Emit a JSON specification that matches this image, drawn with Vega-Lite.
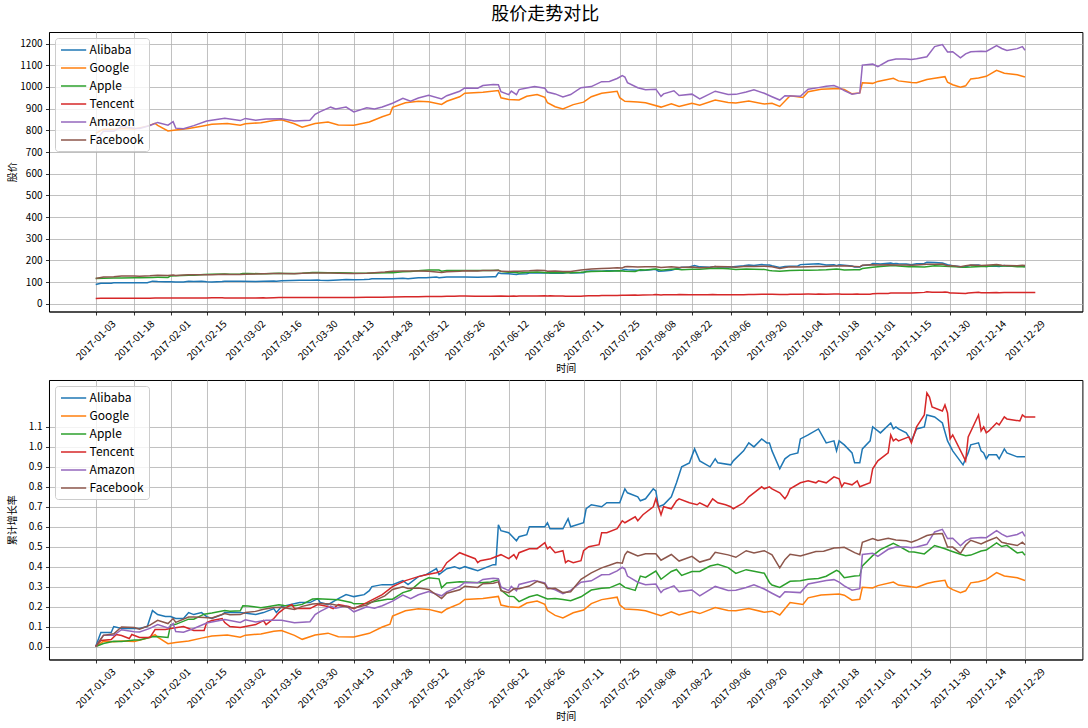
{
  "$schema": "https://vega.github.io/schema/vega-lite/v6.json",
  "padding": {"left": 7, "top": 5, "right": 5, "bottom": 5},
  "title": {"text": "股价走势对比", "fontSize": 18, "fontWeight": "normal", "font": "Noto Sans CJK SC", "color": "#000000", "offset": 8, "anchor": "middle"},
  "spacing": 4,
  "resolve": {"legend": {"color": "independent"}},
  "config": {
    "font": "Noto Sans CJK SC",
    "view": {"stroke": "#000000", "strokeWidth": 1},
    "axis": {"labelFont": "Noto Sans CJK SC", "labelFontSize": 10, "labelColor": "#000000", "titleFont": "Noto Sans CJK SC", "titleFontSize": 10, "titleFontWeight": "normal", "titleColor": "#000000", "gridColor": "#b0b0b0", "gridWidth": 0.8, "gridOpacity": 1, "tickColor": "#000000", "tickSize": 3.5, "tickWidth": 0.8, "domainColor": "#000000", "domainWidth": 0.8},
    "legend": {"title": null, "orient": "top-left", "offset": 6, "symbolType": "M-2.1,0H2.1", "symbolSize": 144, "symbolOffset": 6.6, "symbolStrokeWidth": 1.5, "labelFontSize": 12, "labelFont": "Noto Sans CJK SC", "labelColor": "#000000", "fillColor": "rgba(255,255,255,0.8)", "strokeColor": "#cccccc", "padding": 5, "cornerRadius": 3, "rowPadding": 5, "labelOffset": 9}
  },
  "data": {"values": [
    {"date":"2017-01-03","name":"Alibaba","price":88.6,"rate":0},
    {"date":"2017-01-05","name":"Alibaba","price":94.8,"rate":0.07},
    {"date":"2017-01-09","name":"Alibaba","price":94.8,"rate":0.07},
    {"date":"2017-01-10","name":"Alibaba","price":97.5,"rate":0.10},
    {"date":"2017-01-13","name":"Alibaba","price":96.6,"rate":0.09},
    {"date":"2017-01-20","name":"Alibaba","price":96.6,"rate":0.09},
    {"date":"2017-01-23","name":"Alibaba","price":97.5,"rate":0.10},
    {"date":"2017-01-25","name":"Alibaba","price":104.5,"rate":0.18},
    {"date":"2017-01-27","name":"Alibaba","price":102.8,"rate":0.16},
    {"date":"2017-01-30","name":"Alibaba","price":101.9,"rate":0.15},
    {"date":"2017-02-01","name":"Alibaba","price":101.9,"rate":0.15},
    {"date":"2017-02-03","name":"Alibaba","price":101.0,"rate":0.14},
    {"date":"2017-02-06","name":"Alibaba","price":101.0,"rate":0.14},
    {"date":"2017-02-08","name":"Alibaba","price":103.7,"rate":0.17},
    {"date":"2017-02-10","name":"Alibaba","price":102.8,"rate":0.16},
    {"date":"2017-02-13","name":"Alibaba","price":103.7,"rate":0.17},
    {"date":"2017-02-15","name":"Alibaba","price":101.9,"rate":0.15},
    {"date":"2017-02-17","name":"Alibaba","price":101.0,"rate":0.14},
    {"date":"2017-02-21","name":"Alibaba","price":102.8,"rate":0.16},
    {"date":"2017-02-22","name":"Alibaba","price":103.7,"rate":0.17},
    {"date":"2017-02-28","name":"Alibaba","price":103.7,"rate":0.17},
    {"date":"2017-03-06","name":"Alibaba","price":102.8,"rate":0.16},
    {"date":"2017-03-09","name":"Alibaba","price":103.7,"rate":0.17},
    {"date":"2017-03-13","name":"Alibaba","price":105.4,"rate":0.19},
    {"date":"2017-03-14","name":"Alibaba","price":103.7,"rate":0.17},
    {"date":"2017-03-16","name":"Alibaba","price":106.3,"rate":0.20},
    {"date":"2017-03-23","name":"Alibaba","price":108.1,"rate":0.22},
    {"date":"2017-03-27","name":"Alibaba","price":108.1,"rate":0.22},
    {"date":"2017-03-30","name":"Alibaba","price":109.9,"rate":0.24},
    {"date":"2017-03-31","name":"Alibaba","price":108.1,"rate":0.22},
    {"date":"2017-04-03","name":"Alibaba","price":107.2,"rate":0.21},
    {"date":"2017-04-07","name":"Alibaba","price":109.9,"rate":0.24},
    {"date":"2017-04-10","name":"Alibaba","price":111.6,"rate":0.26},
    {"date":"2017-04-13","name":"Alibaba","price":110.8,"rate":0.25},
    {"date":"2017-04-17","name":"Alibaba","price":111.6,"rate":0.26},
    {"date":"2017-04-19","name":"Alibaba","price":113.4,"rate":0.28},
    {"date":"2017-04-20","name":"Alibaba","price":115.2,"rate":0.30},
    {"date":"2017-04-24","name":"Alibaba","price":116.1,"rate":0.31},
    {"date":"2017-04-28","name":"Alibaba","price":116.1,"rate":0.31},
    {"date":"2017-05-02","name":"Alibaba","price":117.8,"rate":0.33},
    {"date":"2017-05-04","name":"Alibaba","price":116.1,"rate":0.31},
    {"date":"2017-05-08","name":"Alibaba","price":119.6,"rate":0.35},
    {"date":"2017-05-11","name":"Alibaba","price":120.5,"rate":0.36},
    {"date":"2017-05-15","name":"Alibaba","price":123.2,"rate":0.39},
    {"date":"2017-05-16","name":"Alibaba","price":120.5,"rate":0.36},
    {"date":"2017-05-19","name":"Alibaba","price":123.2,"rate":0.39},
    {"date":"2017-05-22","name":"Alibaba","price":124.0,"rate":0.40},
    {"date":"2017-05-24","name":"Alibaba","price":123.2,"rate":0.39},
    {"date":"2017-05-26","name":"Alibaba","price":124.0,"rate":0.40},
    {"date":"2017-05-31","name":"Alibaba","price":122.3,"rate":0.38},
    {"date":"2017-06-06","name":"Alibaba","price":124.9,"rate":0.41},
    {"date":"2017-06-07","name":"Alibaba","price":124.9,"rate":0.41},
    {"date":"2017-06-08","name":"Alibaba","price":142.6,"rate":0.61},
    {"date":"2017-06-09","name":"Alibaba","price":140.0,"rate":0.58},
    {"date":"2017-06-12","name":"Alibaba","price":139.1,"rate":0.57},
    {"date":"2017-06-15","name":"Alibaba","price":135.6,"rate":0.53},
    {"date":"2017-06-16","name":"Alibaba","price":137.3,"rate":0.55},
    {"date":"2017-06-19","name":"Alibaba","price":138.2,"rate":0.56},
    {"date":"2017-06-20","name":"Alibaba","price":141.8,"rate":0.60},
    {"date":"2017-06-22","name":"Alibaba","price":141.8,"rate":0.60},
    {"date":"2017-06-26","name":"Alibaba","price":141.8,"rate":0.60},
    {"date":"2017-06-27","name":"Alibaba","price":143.5,"rate":0.62},
    {"date":"2017-06-28","name":"Alibaba","price":140.9,"rate":0.59},
    {"date":"2017-07-03","name":"Alibaba","price":140.9,"rate":0.59},
    {"date":"2017-07-05","name":"Alibaba","price":145.3,"rate":0.64},
    {"date":"2017-07-06","name":"Alibaba","price":141.8,"rate":0.60},
    {"date":"2017-07-11","name":"Alibaba","price":143.5,"rate":0.62},
    {"date":"2017-07-12","name":"Alibaba","price":149.7,"rate":0.69},
    {"date":"2017-07-14","name":"Alibaba","price":151.5,"rate":0.71},
    {"date":"2017-07-18","name":"Alibaba","price":150.6,"rate":0.70},
    {"date":"2017-07-20","name":"Alibaba","price":152.4,"rate":0.72},
    {"date":"2017-07-25","name":"Alibaba","price":152.4,"rate":0.72},
    {"date":"2017-07-27","name":"Alibaba","price":158.6,"rate":0.79},
    {"date":"2017-07-28","name":"Alibaba","price":156.8,"rate":0.77},
    {"date":"2017-08-01","name":"Alibaba","price":155.1,"rate":0.75},
    {"date":"2017-08-02","name":"Alibaba","price":153.3,"rate":0.73},
    {"date":"2017-08-04","name":"Alibaba","price":154.2,"rate":0.74},
    {"date":"2017-08-07","name":"Alibaba","price":158.6,"rate":0.79},
    {"date":"2017-08-08","name":"Alibaba","price":157.7,"rate":0.78},
    {"date":"2017-08-09","name":"Alibaba","price":150.6,"rate":0.70},
    {"date":"2017-08-11","name":"Alibaba","price":151.5,"rate":0.71},
    {"date":"2017-08-14","name":"Alibaba","price":155.1,"rate":0.75},
    {"date":"2017-08-16","name":"Alibaba","price":161.3,"rate":0.82},
    {"date":"2017-08-18","name":"Alibaba","price":168.3,"rate":0.90},
    {"date":"2017-08-21","name":"Alibaba","price":170.1,"rate":0.92},
    {"date":"2017-08-23","name":"Alibaba","price":176.3,"rate":0.99},
    {"date":"2017-08-25","name":"Alibaba","price":170.4,"rate":0.93},
    {"date":"2017-08-29","name":"Alibaba","price":168.3,"rate":0.90},
    {"date":"2017-08-31","name":"Alibaba","price":171.9,"rate":0.94},
    {"date":"2017-09-01","name":"Alibaba","price":170.1,"rate":0.92},
    {"date":"2017-09-06","name":"Alibaba","price":169.2,"rate":0.91},
    {"date":"2017-09-07","name":"Alibaba","price":171.0,"rate":0.93},
    {"date":"2017-09-11","name":"Alibaba","price":175.4,"rate":0.98},
    {"date":"2017-09-13","name":"Alibaba","price":179.0,"rate":1.02},
    {"date":"2017-09-15","name":"Alibaba","price":177.2,"rate":1.00},
    {"date":"2017-09-18","name":"Alibaba","price":180.7,"rate":1.04},
    {"date":"2017-09-20","name":"Alibaba","price":179.0,"rate":1.02},
    {"date":"2017-09-21","name":"Alibaba","price":179.0,"rate":1.02},
    {"date":"2017-09-22","name":"Alibaba","price":175.4,"rate":0.98},
    {"date":"2017-09-25","name":"Alibaba","price":167.5,"rate":0.89},
    {"date":"2017-09-27","name":"Alibaba","price":171.9,"rate":0.94},
    {"date":"2017-09-29","name":"Alibaba","price":173.7,"rate":0.96},
    {"date":"2017-10-02","name":"Alibaba","price":174.5,"rate":0.97},
    {"date":"2017-10-03","name":"Alibaba","price":180.7,"rate":1.04},
    {"date":"2017-10-06","name":"Alibaba","price":182.5,"rate":1.06},
    {"date":"2017-10-10","name":"Alibaba","price":185.2,"rate":1.09},
    {"date":"2017-10-13","name":"Alibaba","price":179.0,"rate":1.02},
    {"date":"2017-10-16","name":"Alibaba","price":179.9,"rate":1.03},
    {"date":"2017-10-17","name":"Alibaba","price":175.4,"rate":0.98},
    {"date":"2017-10-18","name":"Alibaba","price":179.9,"rate":1.03},
    {"date":"2017-10-20","name":"Alibaba","price":178.1,"rate":1.01},
    {"date":"2017-10-23","name":"Alibaba","price":174.5,"rate":0.97},
    {"date":"2017-10-24","name":"Alibaba","price":170.1,"rate":0.92},
    {"date":"2017-10-26","name":"Alibaba","price":170.1,"rate":0.92},
    {"date":"2017-10-27","name":"Alibaba","price":176.3,"rate":0.99},
    {"date":"2017-10-30","name":"Alibaba","price":179.9,"rate":1.03},
    {"date":"2017-10-31","name":"Alibaba","price":186.1,"rate":1.10},
    {"date":"2017-11-02","name":"Alibaba","price":184.3,"rate":1.08},
    {"date":"2017-11-03","name":"Alibaba","price":183.4,"rate":1.07},
    {"date":"2017-11-07","name":"Alibaba","price":187.8,"rate":1.12},
    {"date":"2017-11-08","name":"Alibaba","price":185.2,"rate":1.09},
    {"date":"2017-11-09","name":"Alibaba","price":186.1,"rate":1.10},
    {"date":"2017-11-10","name":"Alibaba","price":185.2,"rate":1.09},
    {"date":"2017-11-13","name":"Alibaba","price":183.4,"rate":1.07},
    {"date":"2017-11-15","name":"Alibaba","price":179.9,"rate":1.03},
    {"date":"2017-11-17","name":"Alibaba","price":185.2,"rate":1.09},
    {"date":"2017-11-20","name":"Alibaba","price":186.1,"rate":1.10},
    {"date":"2017-11-21","name":"Alibaba","price":191.4,"rate":1.16},
    {"date":"2017-11-24","name":"Alibaba","price":190.5,"rate":1.15},
    {"date":"2017-11-27","name":"Alibaba","price":187.8,"rate":1.12},
    {"date":"2017-11-29","name":"Alibaba","price":179.9,"rate":1.03},
    {"date":"2017-12-01","name":"Alibaba","price":175.4,"rate":0.98},
    {"date":"2017-12-05","name":"Alibaba","price":169.2,"rate":0.91},
    {"date":"2017-12-07","name":"Alibaba","price":174.5,"rate":0.97},
    {"date":"2017-12-08","name":"Alibaba","price":178.1,"rate":1.01},
    {"date":"2017-12-11","name":"Alibaba","price":179.0,"rate":1.02},
    {"date":"2017-12-12","name":"Alibaba","price":175.4,"rate":0.98},
    {"date":"2017-12-13","name":"Alibaba","price":174.5,"rate":0.97},
    {"date":"2017-12-14","name":"Alibaba","price":171.9,"rate":0.94},
    {"date":"2017-12-15","name":"Alibaba","price":173.7,"rate":0.96},
    {"date":"2017-12-18","name":"Alibaba","price":173.7,"rate":0.96},
    {"date":"2017-12-19","name":"Alibaba","price":171.9,"rate":0.94},
    {"date":"2017-12-21","name":"Alibaba","price":176.3,"rate":0.99},
    {"date":"2017-12-22","name":"Alibaba","price":174.5,"rate":0.97},
    {"date":"2017-12-26","name":"Alibaba","price":172.7,"rate":0.95},
    {"date":"2017-12-29","name":"Alibaba","price":172.7,"rate":0.95},

    {"date":"2017-01-03","name":"Google","price":786.1,"rate":0},
    {"date":"2017-01-06","name":"Google","price":806.2,"rate":0.026},
    {"date":"2017-01-10","name":"Google","price":804.8,"rate":0.024},
    {"date":"2017-01-13","name":"Google","price":807.9,"rate":0.028},
    {"date":"2017-01-18","name":"Google","price":806.1,"rate":0.025},
    {"date":"2017-01-23","name":"Google","price":819.3,"rate":0.042},
    {"date":"2017-01-26","name":"Google","price":832.2,"rate":0.059},
    {"date":"2017-01-27","name":"Google","price":823.3,"rate":0.047},
    {"date":"2017-01-31","name":"Google","price":796.8,"rate":0.014},
    {"date":"2017-02-03","name":"Google","price":801.5,"rate":0.020},
    {"date":"2017-02-08","name":"Google","price":808.4,"rate":0.028},
    {"date":"2017-02-13","name":"Google","price":819.2,"rate":0.042},
    {"date":"2017-02-17","name":"Google","price":828.1,"rate":0.053},
    {"date":"2017-02-23","name":"Google","price":831.3,"rate":0.058},
    {"date":"2017-02-28","name":"Google","price":823.2,"rate":0.047},
    {"date":"2017-03-02","name":"Google","price":830.6,"rate":0.057},
    {"date":"2017-03-08","name":"Google","price":835.4,"rate":0.063},
    {"date":"2017-03-13","name":"Google","price":845.5,"rate":0.076},
    {"date":"2017-03-16","name":"Google","price":848.8,"rate":0.080},
    {"date":"2017-03-21","name":"Google","price":830.5,"rate":0.056},
    {"date":"2017-03-24","name":"Google","price":814.4,"rate":0.036},
    {"date":"2017-03-29","name":"Google","price":831.4,"rate":0.058},
    {"date":"2017-04-03","name":"Google","price":838.6,"rate":0.067},
    {"date":"2017-04-07","name":"Google","price":824.7,"rate":0.049},
    {"date":"2017-04-13","name":"Google","price":823.6,"rate":0.048},
    {"date":"2017-04-19","name":"Google","price":838.2,"rate":0.066},
    {"date":"2017-04-24","name":"Google","price":862.8,"rate":0.098},
    {"date":"2017-04-27","name":"Google","price":874.3,"rate":0.112},
    {"date":"2017-04-28","name":"Google","price":905.9,"rate":0.152},
    {"date":"2017-05-03","name":"Google","price":927.1,"rate":0.179},
    {"date":"2017-05-08","name":"Google","price":934.3,"rate":0.189},
    {"date":"2017-05-12","name":"Google","price":932.2,"rate":0.186},
    {"date":"2017-05-17","name":"Google","price":919.6,"rate":0.170},
    {"date":"2017-05-19","name":"Google","price":934.0,"rate":0.188},
    {"date":"2017-05-24","name":"Google","price":954.9,"rate":0.215},
    {"date":"2017-05-26","name":"Google","price":971.5,"rate":0.236},
    {"date":"2017-06-02","name":"Google","price":975.6,"rate":0.241},
    {"date":"2017-06-08","name":"Google","price":983.4,"rate":0.251},
    {"date":"2017-06-09","name":"Google","price":949.8,"rate":0.208},
    {"date":"2017-06-12","name":"Google","price":942.3,"rate":0.199},
    {"date":"2017-06-16","name":"Google","price":939.8,"rate":0.196},
    {"date":"2017-06-19","name":"Google","price":957.4,"rate":0.218},
    {"date":"2017-06-23","name":"Google","price":965.6,"rate":0.228},
    {"date":"2017-06-26","name":"Google","price":952.3,"rate":0.211},
    {"date":"2017-06-27","name":"Google","price":927.3,"rate":0.180},
    {"date":"2017-06-30","name":"Google","price":908.7,"rate":0.156},
    {"date":"2017-07-03","name":"Google","price":898.7,"rate":0.143},
    {"date":"2017-07-07","name":"Google","price":918.6,"rate":0.169},
    {"date":"2017-07-11","name":"Google","price":930.1,"rate":0.183},
    {"date":"2017-07-14","name":"Google","price":955.0,"rate":0.215},
    {"date":"2017-07-18","name":"Google","price":970.9,"rate":0.235},
    {"date":"2017-07-24","name":"Google","price":980.3,"rate":0.247},
    {"date":"2017-07-25","name":"Google","price":950.7,"rate":0.209},
    {"date":"2017-07-27","name":"Google","price":934.1,"rate":0.188},
    {"date":"2017-08-01","name":"Google","price":930.5,"rate":0.184},
    {"date":"2017-08-04","name":"Google","price":927.0,"rate":0.179},
    {"date":"2017-08-10","name":"Google","price":907.2,"rate":0.154},
    {"date":"2017-08-14","name":"Google","price":922.7,"rate":0.174},
    {"date":"2017-08-17","name":"Google","price":910.0,"rate":0.158},
    {"date":"2017-08-22","name":"Google","price":924.7,"rate":0.176},
    {"date":"2017-08-25","name":"Google","price":915.9,"rate":0.165},
    {"date":"2017-08-31","name":"Google","price":939.3,"rate":0.195},
    {"date":"2017-09-05","name":"Google","price":928.5,"rate":0.181},
    {"date":"2017-09-08","name":"Google","price":926.5,"rate":0.179},
    {"date":"2017-09-13","name":"Google","price":935.1,"rate":0.190},
    {"date":"2017-09-19","name":"Google","price":921.3,"rate":0.172},
    {"date":"2017-09-22","name":"Google","price":924.9,"rate":0.177},
    {"date":"2017-09-25","name":"Google","price":910.0,"rate":0.158},
    {"date":"2017-09-29","name":"Google","price":959.1,"rate":0.220},
    {"date":"2017-10-04","name":"Google","price":951.7,"rate":0.211},
    {"date":"2017-10-06","name":"Google","price":978.0,"rate":0.244},
    {"date":"2017-10-11","name":"Google","price":989.3,"rate":0.258},
    {"date":"2017-10-18","name":"Google","price":992.8,"rate":0.263},
    {"date":"2017-10-20","name":"Google","price":988.2,"rate":0.257},
    {"date":"2017-10-23","name":"Google","price":968.5,"rate":0.232},
    {"date":"2017-10-26","name":"Google","price":972.6,"rate":0.237},
    {"date":"2017-10-27","name":"Google","price":1019.3,"rate":0.297},
    {"date":"2017-10-31","name":"Google","price":1016.6,"rate":0.293},
    {"date":"2017-11-02","name":"Google","price":1025.6,"rate":0.305},
    {"date":"2017-11-08","name":"Google","price":1039.9,"rate":0.323},
    {"date":"2017-11-10","name":"Google","price":1028.1,"rate":0.308},
    {"date":"2017-11-15","name":"Google","price":1020.9,"rate":0.299},
    {"date":"2017-11-17","name":"Google","price":1019.1,"rate":0.296},
    {"date":"2017-11-21","name":"Google","price":1034.5,"rate":0.316},
    {"date":"2017-11-24","name":"Google","price":1040.6,"rate":0.324},
    {"date":"2017-11-28","name":"Google","price":1047.4,"rate":0.332},
    {"date":"2017-11-29","name":"Google","price":1021.7,"rate":0.300},
    {"date":"2017-12-01","name":"Google","price":1010.2,"rate":0.285},
    {"date":"2017-12-04","name":"Google","price":998.7,"rate":0.270},
    {"date":"2017-12-06","name":"Google","price":1005.2,"rate":0.279},
    {"date":"2017-12-08","name":"Google","price":1037.1,"rate":0.319},
    {"date":"2017-12-11","name":"Google","price":1041.1,"rate":0.324},
    {"date":"2017-12-14","name":"Google","price":1049.2,"rate":0.335},
    {"date":"2017-12-18","name":"Google","price":1077.1,"rate":0.370},
    {"date":"2017-12-21","name":"Google","price":1063.6,"rate":0.353},
    {"date":"2017-12-26","name":"Google","price":1056.7,"rate":0.344},
    {"date":"2017-12-29","name":"Google","price":1046.4,"rate":0.331},

    {"date":"2017-01-03","name":"Apple","price":116.15,"rate":0},
    {"date":"2017-01-06","name":"Apple","price":117.91,"rate":0.015},
    {"date":"2017-01-10","name":"Apple","price":119.11,"rate":0.026},
    {"date":"2017-01-13","name":"Apple","price":119.04,"rate":0.025},
    {"date":"2017-01-18","name":"Apple","price":119.99,"rate":0.033},
    {"date":"2017-01-20","name":"Apple","price":120.0,"rate":0.033},
    {"date":"2017-01-25","name":"Apple","price":121.88,"rate":0.049},
    {"date":"2017-01-27","name":"Apple","price":121.95,"rate":0.050},
    {"date":"2017-01-31","name":"Apple","price":121.35,"rate":0.045},
    {"date":"2017-02-01","name":"Apple","price":128.75,"rate":0.108},
    {"date":"2017-02-03","name":"Apple","price":129.08,"rate":0.111},
    {"date":"2017-02-08","name":"Apple","price":132.04,"rate":0.137},
    {"date":"2017-02-10","name":"Apple","price":132.12,"rate":0.137},
    {"date":"2017-02-14","name":"Apple","price":135.02,"rate":0.162},
    {"date":"2017-02-17","name":"Apple","price":135.72,"rate":0.168},
    {"date":"2017-02-22","name":"Apple","price":137.11,"rate":0.180},
    {"date":"2017-02-24","name":"Apple","price":136.66,"rate":0.177},
    {"date":"2017-02-28","name":"Apple","price":136.99,"rate":0.179},
    {"date":"2017-03-01","name":"Apple","price":139.79,"rate":0.204},
    {"date":"2017-03-03","name":"Apple","price":139.78,"rate":0.203},
    {"date":"2017-03-08","name":"Apple","price":138.68,"rate":0.194},
    {"date":"2017-03-10","name":"Apple","price":139.14,"rate":0.198},
    {"date":"2017-03-15","name":"Apple","price":140.46,"rate":0.209},
    {"date":"2017-03-17","name":"Apple","price":139.99,"rate":0.205},
    {"date":"2017-03-21","name":"Apple","price":139.84,"rate":0.204},
    {"date":"2017-03-24","name":"Apple","price":140.64,"rate":0.211},
    {"date":"2017-03-28","name":"Apple","price":143.80,"rate":0.238},
    {"date":"2017-03-30","name":"Apple","price":143.93,"rate":0.239},
    {"date":"2017-04-03","name":"Apple","price":143.70,"rate":0.237},
    {"date":"2017-04-07","name":"Apple","price":143.34,"rate":0.234},
    {"date":"2017-04-12","name":"Apple","price":141.80,"rate":0.221},
    {"date":"2017-04-13","name":"Apple","price":141.05,"rate":0.214},
    {"date":"2017-04-18","name":"Apple","price":141.20,"rate":0.216},
    {"date":"2017-04-21","name":"Apple","price":142.27,"rate":0.225},
    {"date":"2017-04-26","name":"Apple","price":143.68,"rate":0.237},
    {"date":"2017-04-28","name":"Apple","price":143.65,"rate":0.237},
    {"date":"2017-05-02","name":"Apple","price":147.51,"rate":0.270},
    {"date":"2017-05-05","name":"Apple","price":148.96,"rate":0.282},
    {"date":"2017-05-09","name":"Apple","price":153.99,"rate":0.326},
    {"date":"2017-05-12","name":"Apple","price":156.10,"rate":0.344},
    {"date":"2017-05-16","name":"Apple","price":155.47,"rate":0.339},
    {"date":"2017-05-17","name":"Apple","price":150.25,"rate":0.294},
    {"date":"2017-05-19","name":"Apple","price":153.06,"rate":0.318},
    {"date":"2017-05-24","name":"Apple","price":153.80,"rate":0.324},
    {"date":"2017-05-26","name":"Apple","price":153.61,"rate":0.323},
    {"date":"2017-06-01","name":"Apple","price":153.18,"rate":0.319},
    {"date":"2017-06-05","name":"Apple","price":153.67,"rate":0.323},
    {"date":"2017-06-08","name":"Apple","price":154.99,"rate":0.334},
    {"date":"2017-06-09","name":"Apple","price":148.98,"rate":0.283},
    {"date":"2017-06-12","name":"Apple","price":145.42,"rate":0.252},
    {"date":"2017-06-14","name":"Apple","price":145.16,"rate":0.250},
    {"date":"2017-06-16","name":"Apple","price":142.27,"rate":0.225},
    {"date":"2017-06-20","name":"Apple","price":145.01,"rate":0.249},
    {"date":"2017-06-23","name":"Apple","price":146.28,"rate":0.259},
    {"date":"2017-06-27","name":"Apple","price":143.73,"rate":0.238},
    {"date":"2017-06-30","name":"Apple","price":144.02,"rate":0.240},
    {"date":"2017-07-03","name":"Apple","price":143.50,"rate":0.236},
    {"date":"2017-07-06","name":"Apple","price":142.73,"rate":0.229},
    {"date":"2017-07-10","name":"Apple","price":145.06,"rate":0.249},
    {"date":"2017-07-14","name":"Apple","price":149.04,"rate":0.283},
    {"date":"2017-07-18","name":"Apple","price":150.08,"rate":0.292},
    {"date":"2017-07-21","name":"Apple","price":150.27,"rate":0.294},
    {"date":"2017-07-25","name":"Apple","price":152.74,"rate":0.315},
    {"date":"2017-07-27","name":"Apple","price":150.56,"rate":0.296},
    {"date":"2017-07-31","name":"Apple","price":148.73,"rate":0.281},
    {"date":"2017-08-02","name":"Apple","price":157.14,"rate":0.353},
    {"date":"2017-08-04","name":"Apple","price":156.39,"rate":0.346},
    {"date":"2017-08-08","name":"Apple","price":160.08,"rate":0.378},
    {"date":"2017-08-10","name":"Apple","price":155.32,"rate":0.337},
    {"date":"2017-08-14","name":"Apple","price":159.85,"rate":0.376},
    {"date":"2017-08-16","name":"Apple","price":160.95,"rate":0.386},
    {"date":"2017-08-18","name":"Apple","price":157.50,"rate":0.356},
    {"date":"2017-08-22","name":"Apple","price":159.78,"rate":0.376},
    {"date":"2017-08-25","name":"Apple","price":159.86,"rate":0.376},
    {"date":"2017-08-29","name":"Apple","price":162.91,"rate":0.403},
    {"date":"2017-09-01","name":"Apple","price":164.05,"rate":0.412},
    {"date":"2017-09-05","name":"Apple","price":162.08,"rate":0.395},
    {"date":"2017-09-08","name":"Apple","price":158.63,"rate":0.366},
    {"date":"2017-09-12","name":"Apple","price":160.86,"rate":0.385},
    {"date":"2017-09-15","name":"Apple","price":159.88,"rate":0.377},
    {"date":"2017-09-19","name":"Apple","price":158.73,"rate":0.367},
    {"date":"2017-09-21","name":"Apple","price":153.39,"rate":0.321},
    {"date":"2017-09-22","name":"Apple","price":151.89,"rate":0.308},
    {"date":"2017-09-25","name":"Apple","price":150.55,"rate":0.296},
    {"date":"2017-09-29","name":"Apple","price":154.12,"rate":0.327},
    {"date":"2017-10-03","name":"Apple","price":154.48,"rate":0.330},
    {"date":"2017-10-06","name":"Apple","price":155.30,"rate":0.337},
    {"date":"2017-10-10","name":"Apple","price":155.70,"rate":0.341},
    {"date":"2017-10-13","name":"Apple","price":156.99,"rate":0.352},
    {"date":"2017-10-17","name":"Apple","price":160.47,"rate":0.382},
    {"date":"2017-10-18","name":"Apple","price":159.76,"rate":0.375},
    {"date":"2017-10-20","name":"Apple","price":156.25,"rate":0.345},
    {"date":"2017-10-24","name":"Apple","price":157.10,"rate":0.353},
    {"date":"2017-10-26","name":"Apple","price":157.41,"rate":0.355},
    {"date":"2017-10-27","name":"Apple","price":163.05,"rate":0.404},
    {"date":"2017-10-31","name":"Apple","price":169.04,"rate":0.455},
    {"date":"2017-11-03","name":"Apple","price":172.50,"rate":0.485},
    {"date":"2017-11-08","name":"Apple","price":176.24,"rate":0.517},
    {"date":"2017-11-10","name":"Apple","price":174.67,"rate":0.504},
    {"date":"2017-11-14","name":"Apple","price":171.34,"rate":0.475},
    {"date":"2017-11-16","name":"Apple","price":171.10,"rate":0.473},
    {"date":"2017-11-20","name":"Apple","price":169.98,"rate":0.464},
    {"date":"2017-11-24","name":"Apple","price":174.97,"rate":0.506},
    {"date":"2017-11-28","name":"Apple","price":173.07,"rate":0.490},
    {"date":"2017-11-30","name":"Apple","price":171.85,"rate":0.480},
    {"date":"2017-12-04","name":"Apple","price":169.80,"rate":0.462},
    {"date":"2017-12-06","name":"Apple","price":169.01,"rate":0.455},
    {"date":"2017-12-08","name":"Apple","price":169.37,"rate":0.458},
    {"date":"2017-12-12","name":"Apple","price":171.70,"rate":0.478},
    {"date":"2017-12-14","name":"Apple","price":172.22,"rate":0.483},
    {"date":"2017-12-18","name":"Apple","price":176.42,"rate":0.519},
    {"date":"2017-12-20","name":"Apple","price":174.35,"rate":0.501},
    {"date":"2017-12-22","name":"Apple","price":175.01,"rate":0.507},
    {"date":"2017-12-26","name":"Apple","price":170.57,"rate":0.469},
    {"date":"2017-12-28","name":"Apple","price":171.08,"rate":0.473},
    {"date":"2017-12-29","name":"Apple","price":169.23,"rate":0.457},

    {"date":"2017-01-03","name":"Tencent","price":24.40,"rate":0},
    {"date":"2017-01-05","name":"Tencent","price":25.13,"rate":0.03},
    {"date":"2017-01-09","name":"Tencent","price":25.25,"rate":0.035},
    {"date":"2017-01-11","name":"Tencent","price":25.86,"rate":0.06},
    {"date":"2017-01-13","name":"Tencent","price":25.74,"rate":0.055},
    {"date":"2017-01-16","name":"Tencent","price":25.38,"rate":0.04},
    {"date":"2017-01-17","name":"Tencent","price":25.86,"rate":0.06},
    {"date":"2017-01-20","name":"Tencent","price":25.50,"rate":0.045},
    {"date":"2017-01-24","name":"Tencent","price":25.50,"rate":0.045},
    {"date":"2017-01-26","name":"Tencent","price":26.47,"rate":0.085},
    {"date":"2017-01-30","name":"Tencent","price":26.47,"rate":0.085},
    {"date":"2017-02-01","name":"Tencent","price":26.60,"rate":0.09},
    {"date":"2017-02-06","name":"Tencent","price":26.84,"rate":0.10},
    {"date":"2017-02-08","name":"Tencent","price":26.60,"rate":0.09},
    {"date":"2017-02-10","name":"Tencent","price":26.35,"rate":0.08},
    {"date":"2017-02-14","name":"Tencent","price":26.35,"rate":0.08},
    {"date":"2017-02-15","name":"Tencent","price":27.33,"rate":0.12},
    {"date":"2017-02-17","name":"Tencent","price":27.57,"rate":0.13},
    {"date":"2017-02-21","name":"Tencent","price":27.82,"rate":0.14},
    {"date":"2017-02-22","name":"Tencent","price":27.33,"rate":0.12},
    {"date":"2017-02-24","name":"Tencent","price":26.84,"rate":0.10},
    {"date":"2017-02-28","name":"Tencent","price":26.72,"rate":0.095},
    {"date":"2017-03-02","name":"Tencent","price":26.84,"rate":0.10},
    {"date":"2017-03-06","name":"Tencent","price":27.08,"rate":0.11},
    {"date":"2017-03-09","name":"Tencent","price":27.57,"rate":0.13},
    {"date":"2017-03-10","name":"Tencent","price":27.08,"rate":0.11},
    {"date":"2017-03-13","name":"Tencent","price":27.82,"rate":0.14},
    {"date":"2017-03-15","name":"Tencent","price":28.55,"rate":0.17},
    {"date":"2017-03-17","name":"Tencent","price":29.04,"rate":0.19},
    {"date":"2017-03-20","name":"Tencent","price":29.52,"rate":0.21},
    {"date":"2017-03-21","name":"Tencent","price":29.04,"rate":0.19},
    {"date":"2017-03-24","name":"Tencent","price":29.04,"rate":0.19},
    {"date":"2017-03-27","name":"Tencent","price":29.04,"rate":0.19},
    {"date":"2017-03-30","name":"Tencent","price":29.52,"rate":0.21},
    {"date":"2017-04-03","name":"Tencent","price":29.28,"rate":0.20},
    {"date":"2017-04-05","name":"Tencent","price":29.04,"rate":0.19},
    {"date":"2017-04-07","name":"Tencent","price":29.52,"rate":0.21},
    {"date":"2017-04-11","name":"Tencent","price":29.28,"rate":0.20},
    {"date":"2017-04-13","name":"Tencent","price":29.04,"rate":0.19},
    {"date":"2017-04-18","name":"Tencent","price":29.77,"rate":0.22},
    {"date":"2017-04-21","name":"Tencent","price":30.26,"rate":0.24},
    {"date":"2017-04-24","name":"Tencent","price":30.74,"rate":0.26},
    {"date":"2017-04-28","name":"Tencent","price":31.72,"rate":0.30},
    {"date":"2017-05-03","name":"Tencent","price":32.45,"rate":0.33},
    {"date":"2017-05-08","name":"Tencent","price":32.94,"rate":0.35},
    {"date":"2017-05-11","name":"Tencent","price":33.18,"rate":0.36},
    {"date":"2017-05-15","name":"Tencent","price":33.43,"rate":0.37},
    {"date":"2017-05-17","name":"Tencent","price":33.67,"rate":0.38},
    {"date":"2017-05-19","name":"Tencent","price":34.65,"rate":0.42},
    {"date":"2017-05-22","name":"Tencent","price":35.38,"rate":0.45},
    {"date":"2017-05-24","name":"Tencent","price":35.87,"rate":0.47},
    {"date":"2017-05-26","name":"Tencent","price":35.62,"rate":0.46},
    {"date":"2017-05-30","name":"Tencent","price":35.14,"rate":0.44},
    {"date":"2017-05-31","name":"Tencent","price":34.65,"rate":0.42},
    {"date":"2017-06-01","name":"Tencent","price":34.89,"rate":0.43},
    {"date":"2017-06-05","name":"Tencent","price":35.14,"rate":0.44},
    {"date":"2017-06-09","name":"Tencent","price":35.62,"rate":0.46},
    {"date":"2017-06-12","name":"Tencent","price":35.14,"rate":0.44},
    {"date":"2017-06-14","name":"Tencent","price":35.62,"rate":0.46},
    {"date":"2017-06-15","name":"Tencent","price":35.14,"rate":0.44},
    {"date":"2017-06-16","name":"Tencent","price":35.87,"rate":0.47},
    {"date":"2017-06-20","name":"Tencent","price":36.36,"rate":0.49},
    {"date":"2017-06-23","name":"Tencent","price":36.36,"rate":0.49},
    {"date":"2017-06-26","name":"Tencent","price":37.09,"rate":0.52},
    {"date":"2017-06-27","name":"Tencent","price":36.36,"rate":0.49},
    {"date":"2017-06-28","name":"Tencent","price":36.60,"rate":0.50},
    {"date":"2017-06-30","name":"Tencent","price":35.87,"rate":0.47},
    {"date":"2017-07-03","name":"Tencent","price":36.11,"rate":0.48},
    {"date":"2017-07-04","name":"Tencent","price":34.65,"rate":0.42},
    {"date":"2017-07-05","name":"Tencent","price":34.89,"rate":0.43},
    {"date":"2017-07-07","name":"Tencent","price":34.65,"rate":0.42},
    {"date":"2017-07-10","name":"Tencent","price":34.89,"rate":0.43},
    {"date":"2017-07-11","name":"Tencent","price":36.11,"rate":0.48},
    {"date":"2017-07-13","name":"Tencent","price":36.60,"rate":0.50},
    {"date":"2017-07-17","name":"Tencent","price":36.84,"rate":0.51},
    {"date":"2017-07-18","name":"Tencent","price":38.31,"rate":0.57},
    {"date":"2017-07-20","name":"Tencent","price":38.31,"rate":0.57},
    {"date":"2017-07-24","name":"Tencent","price":38.80,"rate":0.59},
    {"date":"2017-07-26","name":"Tencent","price":39.77,"rate":0.63},
    {"date":"2017-07-27","name":"Tencent","price":39.53,"rate":0.62},
    {"date":"2017-07-31","name":"Tencent","price":40.26,"rate":0.65},
    {"date":"2017-08-01","name":"Tencent","price":39.77,"rate":0.63},
    {"date":"2017-08-03","name":"Tencent","price":40.50,"rate":0.66},
    {"date":"2017-08-07","name":"Tencent","price":41.48,"rate":0.70},
    {"date":"2017-08-08","name":"Tencent","price":42.46,"rate":0.74},
    {"date":"2017-08-10","name":"Tencent","price":40.50,"rate":0.66},
    {"date":"2017-08-11","name":"Tencent","price":41.48,"rate":0.70},
    {"date":"2017-08-14","name":"Tencent","price":41.24,"rate":0.69},
    {"date":"2017-08-16","name":"Tencent","price":42.21,"rate":0.73},
    {"date":"2017-08-17","name":"Tencent","price":42.46,"rate":0.74},
    {"date":"2017-08-21","name":"Tencent","price":41.97,"rate":0.72},
    {"date":"2017-08-24","name":"Tencent","price":41.72,"rate":0.71},
    {"date":"2017-08-25","name":"Tencent","price":41.97,"rate":0.72},
    {"date":"2017-08-28","name":"Tencent","price":41.48,"rate":0.70},
    {"date":"2017-08-30","name":"Tencent","price":42.46,"rate":0.74},
    {"date":"2017-09-01","name":"Tencent","price":41.97,"rate":0.72},
    {"date":"2017-09-04","name":"Tencent","price":41.72,"rate":0.71},
    {"date":"2017-09-06","name":"Tencent","price":41.48,"rate":0.70},
    {"date":"2017-09-07","name":"Tencent","price":41.24,"rate":0.69},
    {"date":"2017-09-11","name":"Tencent","price":41.97,"rate":0.72},
    {"date":"2017-09-13","name":"Tencent","price":42.70,"rate":0.75},
    {"date":"2017-09-15","name":"Tencent","price":43.19,"rate":0.77},
    {"date":"2017-09-18","name":"Tencent","price":43.92,"rate":0.80},
    {"date":"2017-09-19","name":"Tencent","price":43.68,"rate":0.79},
    {"date":"2017-09-21","name":"Tencent","price":43.92,"rate":0.80},
    {"date":"2017-09-22","name":"Tencent","price":43.68,"rate":0.79},
    {"date":"2017-09-25","name":"Tencent","price":43.19,"rate":0.77},
    {"date":"2017-09-27","name":"Tencent","price":42.46,"rate":0.74},
    {"date":"2017-09-28","name":"Tencent","price":42.94,"rate":0.76},
    {"date":"2017-09-29","name":"Tencent","price":43.68,"rate":0.79},
    {"date":"2017-10-03","name":"Tencent","price":44.41,"rate":0.82},
    {"date":"2017-10-06","name":"Tencent","price":44.65,"rate":0.83},
    {"date":"2017-10-09","name":"Tencent","price":44.41,"rate":0.82},
    {"date":"2017-10-10","name":"Tencent","price":44.65,"rate":0.83},
    {"date":"2017-10-13","name":"Tencent","price":44.41,"rate":0.82},
    {"date":"2017-10-16","name":"Tencent","price":45.14,"rate":0.85},
    {"date":"2017-10-18","name":"Tencent","price":44.90,"rate":0.84},
    {"date":"2017-10-19","name":"Tencent","price":43.92,"rate":0.80},
    {"date":"2017-10-20","name":"Tencent","price":44.41,"rate":0.82},
    {"date":"2017-10-23","name":"Tencent","price":44.16,"rate":0.81},
    {"date":"2017-10-25","name":"Tencent","price":44.65,"rate":0.83},
    {"date":"2017-10-26","name":"Tencent","price":43.92,"rate":0.80},
    {"date":"2017-10-30","name":"Tencent","price":44.41,"rate":0.82},
    {"date":"2017-10-31","name":"Tencent","price":46.12,"rate":0.89},
    {"date":"2017-11-02","name":"Tencent","price":47.09,"rate":0.93},
    {"date":"2017-11-06","name":"Tencent","price":48.07,"rate":0.97},
    {"date":"2017-11-07","name":"Tencent","price":50.26,"rate":1.06},
    {"date":"2017-11-08","name":"Tencent","price":49.53,"rate":1.03},
    {"date":"2017-11-09","name":"Tencent","price":49.78,"rate":1.04},
    {"date":"2017-11-10","name":"Tencent","price":49.53,"rate":1.03},
    {"date":"2017-11-14","name":"Tencent","price":50.02,"rate":1.05},
    {"date":"2017-11-15","name":"Tencent","price":49.29,"rate":1.02},
    {"date":"2017-11-17","name":"Tencent","price":51.24,"rate":1.10},
    {"date":"2017-11-20","name":"Tencent","price":52.70,"rate":1.16},
    {"date":"2017-11-21","name":"Tencent","price":55.39,"rate":1.27},
    {"date":"2017-11-22","name":"Tencent","price":54.90,"rate":1.25},
    {"date":"2017-11-23","name":"Tencent","price":53.68,"rate":1.20},
    {"date":"2017-11-27","name":"Tencent","price":53.19,"rate":1.18},
    {"date":"2017-11-28","name":"Tencent","price":53.92,"rate":1.21},
    {"date":"2017-11-29","name":"Tencent","price":52.95,"rate":1.17},
    {"date":"2017-11-30","name":"Tencent","price":49.78,"rate":1.04},
    {"date":"2017-12-01","name":"Tencent","price":50.26,"rate":1.06},
    {"date":"2017-12-06","name":"Tencent","price":47.09,"rate":0.93},
    {"date":"2017-12-07","name":"Tencent","price":50.02,"rate":1.05},
    {"date":"2017-12-11","name":"Tencent","price":52.70,"rate":1.16},
    {"date":"2017-12-12","name":"Tencent","price":50.75,"rate":1.08},
    {"date":"2017-12-13","name":"Tencent","price":51.24,"rate":1.10},
    {"date":"2017-12-14","name":"Tencent","price":50.51,"rate":1.07},
    {"date":"2017-12-15","name":"Tencent","price":50.75,"rate":1.08},
    {"date":"2017-12-18","name":"Tencent","price":51.73,"rate":1.12},
    {"date":"2017-12-19","name":"Tencent","price":51.48,"rate":1.11},
    {"date":"2017-12-21","name":"Tencent","price":52.46,"rate":1.15},
    {"date":"2017-12-22","name":"Tencent","price":52.22,"rate":1.14},
    {"date":"2017-12-27","name":"Tencent","price":51.97,"rate":1.13},
    {"date":"2017-12-28","name":"Tencent","price":52.70,"rate":1.16},
    {"date":"2017-12-29","name":"Tencent","price":52.46,"rate":1.15},
    {"date":"2018-01-02","name":"Tencent","price":52.46,"rate":1.15},

    {"date":"2017-01-03","name":"Amazon","price":753.7,"rate":0},
    {"date":"2017-01-06","name":"Amazon","price":796.0,"rate":0.056},
    {"date":"2017-01-10","name":"Amazon","price":796.0,"rate":0.056},
    {"date":"2017-01-13","name":"Amazon","price":817.1,"rate":0.084},
    {"date":"2017-01-18","name":"Amazon","price":809.7,"rate":0.074},
    {"date":"2017-01-20","name":"Amazon","price":808.3,"rate":0.073},
    {"date":"2017-01-24","name":"Amazon","price":822.4,"rate":0.091},
    {"date":"2017-01-27","name":"Amazon","price":836.5,"rate":0.110},
    {"date":"2017-01-31","name":"Amazon","price":823.5,"rate":0.093},
    {"date":"2017-02-02","name":"Amazon","price":840.0,"rate":0.115},
    {"date":"2017-02-03","name":"Amazon","price":810.2,"rate":0.075},
    {"date":"2017-02-06","name":"Amazon","price":807.6,"rate":0.072},
    {"date":"2017-02-10","name":"Amazon","price":821.6,"rate":0.090},
    {"date":"2017-02-15","name":"Amazon","price":842.7,"rate":0.118},
    {"date":"2017-02-22","name":"Amazon","price":855.6,"rate":0.135},
    {"date":"2017-02-28","name":"Amazon","price":845.0,"rate":0.121},
    {"date":"2017-03-02","name":"Amazon","price":855.0,"rate":0.134},
    {"date":"2017-03-06","name":"Amazon","price":846.6,"rate":0.123},
    {"date":"2017-03-10","name":"Amazon","price":852.5,"rate":0.131},
    {"date":"2017-03-16","name":"Amazon","price":853.0,"rate":0.132},
    {"date":"2017-03-21","name":"Amazon","price":843.2,"rate":0.119},
    {"date":"2017-03-27","name":"Amazon","price":846.8,"rate":0.124},
    {"date":"2017-03-29","name":"Amazon","price":874.3,"rate":0.160},
    {"date":"2017-03-31","name":"Amazon","price":886.5,"rate":0.176},
    {"date":"2017-04-04","name":"Amazon","price":906.8,"rate":0.203},
    {"date":"2017-04-06","name":"Amazon","price":898.3,"rate":0.192},
    {"date":"2017-04-10","name":"Amazon","price":907.0,"rate":0.203},
    {"date":"2017-04-13","name":"Amazon","price":884.7,"rate":0.174},
    {"date":"2017-04-18","name":"Amazon","price":903.8,"rate":0.199},
    {"date":"2017-04-21","name":"Amazon","price":898.5,"rate":0.192},
    {"date":"2017-04-24","name":"Amazon","price":907.4,"rate":0.204},
    {"date":"2017-04-28","name":"Amazon","price":925.0,"rate":0.227},
    {"date":"2017-05-02","name":"Amazon","price":948.2,"rate":0.258},
    {"date":"2017-05-05","name":"Amazon","price":934.2,"rate":0.240},
    {"date":"2017-05-08","name":"Amazon","price":949.0,"rate":0.259},
    {"date":"2017-05-12","name":"Amazon","price":961.3,"rate":0.276},
    {"date":"2017-05-17","name":"Amazon","price":944.8,"rate":0.254},
    {"date":"2017-05-19","name":"Amazon","price":959.8,"rate":0.274},
    {"date":"2017-05-24","name":"Amazon","price":980.4,"rate":0.301},
    {"date":"2017-05-26","name":"Amazon","price":995.8,"rate":0.321},
    {"date":"2017-05-31","name":"Amazon","price":994.6,"rate":0.320},
    {"date":"2017-06-02","name":"Amazon","price":1006.7,"rate":0.336},
    {"date":"2017-06-06","name":"Amazon","price":1011.3,"rate":0.342},
    {"date":"2017-06-08","name":"Amazon","price":1010.0,"rate":0.340},
    {"date":"2017-06-09","name":"Amazon","price":978.3,"rate":0.298},
    {"date":"2017-06-12","name":"Amazon","price":964.9,"rate":0.280},
    {"date":"2017-06-13","name":"Amazon","price":980.8,"rate":0.301},
    {"date":"2017-06-15","name":"Amazon","price":964.2,"rate":0.279},
    {"date":"2017-06-16","name":"Amazon","price":987.7,"rate":0.311},
    {"date":"2017-06-19","name":"Amazon","price":995.2,"rate":0.321},
    {"date":"2017-06-22","name":"Amazon","price":1002.2,"rate":0.330},
    {"date":"2017-06-26","name":"Amazon","price":994.0,"rate":0.319},
    {"date":"2017-06-27","name":"Amazon","price":976.8,"rate":0.296},
    {"date":"2017-06-30","name":"Amazon","price":968.0,"rate":0.284},
    {"date":"2017-07-03","name":"Amazon","price":953.7,"rate":0.265},
    {"date":"2017-07-06","name":"Amazon","price":965.1,"rate":0.281},
    {"date":"2017-07-10","name":"Amazon","price":996.5,"rate":0.322},
    {"date":"2017-07-14","name":"Amazon","price":1001.8,"rate":0.329},
    {"date":"2017-07-18","name":"Amazon","price":1024.4,"rate":0.359},
    {"date":"2017-07-21","name":"Amazon","price":1025.7,"rate":0.361},
    {"date":"2017-07-24","name":"Amazon","price":1039.0,"rate":0.379},
    {"date":"2017-07-26","name":"Amazon","price":1052.8,"rate":0.397},
    {"date":"2017-07-27","name":"Amazon","price":1046.0,"rate":0.388},
    {"date":"2017-07-28","name":"Amazon","price":1020.0,"rate":0.353},
    {"date":"2017-08-01","name":"Amazon","price":996.2,"rate":0.322},
    {"date":"2017-08-04","name":"Amazon","price":987.6,"rate":0.310},
    {"date":"2017-08-08","name":"Amazon","price":989.8,"rate":0.313},
    {"date":"2017-08-10","name":"Amazon","price":956.9,"rate":0.270},
    {"date":"2017-08-11","name":"Amazon","price":968.0,"rate":0.284},
    {"date":"2017-08-15","name":"Amazon","price":982.7,"rate":0.304},
    {"date":"2017-08-17","name":"Amazon","price":960.6,"rate":0.275},
    {"date":"2017-08-22","name":"Amazon","price":966.9,"rate":0.283},
    {"date":"2017-08-25","name":"Amazon","price":945.3,"rate":0.254},
    {"date":"2017-08-31","name":"Amazon","price":980.6,"rate":0.301},
    {"date":"2017-09-05","name":"Amazon","price":965.3,"rate":0.281},
    {"date":"2017-09-08","name":"Amazon","price":965.9,"rate":0.282},
    {"date":"2017-09-12","name":"Amazon","price":976.8,"rate":0.296},
    {"date":"2017-09-15","name":"Amazon","price":986.8,"rate":0.309},
    {"date":"2017-09-19","name":"Amazon","price":970.9,"rate":0.288},
    {"date":"2017-09-22","name":"Amazon","price":955.1,"rate":0.267},
    {"date":"2017-09-25","name":"Amazon","price":939.8,"rate":0.247},
    {"date":"2017-09-27","name":"Amazon","price":959.9,"rate":0.274},
    {"date":"2017-10-03","name":"Amazon","price":957.1,"rate":0.270},
    {"date":"2017-10-06","name":"Amazon","price":989.6,"rate":0.313},
    {"date":"2017-10-10","name":"Amazon","price":997.0,"rate":0.323},
    {"date":"2017-10-13","name":"Amazon","price":1002.9,"rate":0.331},
    {"date":"2017-10-16","name":"Amazon","price":1006.3,"rate":0.335},
    {"date":"2017-10-18","name":"Amazon","price":996.8,"rate":0.323},
    {"date":"2017-10-20","name":"Amazon","price":982.9,"rate":0.304},
    {"date":"2017-10-23","name":"Amazon","price":966.3,"rate":0.282},
    {"date":"2017-10-26","name":"Amazon","price":972.4,"rate":0.290},
    {"date":"2017-10-27","name":"Amazon","price":1101.0,"rate":0.461},
    {"date":"2017-10-31","name":"Amazon","price":1105.3,"rate":0.467},
    {"date":"2017-11-02","name":"Amazon","price":1094.2,"rate":0.452},
    {"date":"2017-11-06","name":"Amazon","price":1120.7,"rate":0.487},
    {"date":"2017-11-09","name":"Amazon","price":1129.1,"rate":0.498},
    {"date":"2017-11-13","name":"Amazon","price":1129.2,"rate":0.498},
    {"date":"2017-11-15","name":"Amazon","price":1126.7,"rate":0.495},
    {"date":"2017-11-17","name":"Amazon","price":1129.9,"rate":0.499},
    {"date":"2017-11-21","name":"Amazon","price":1139.5,"rate":0.512},
    {"date":"2017-11-24","name":"Amazon","price":1186.0,"rate":0.574},
    {"date":"2017-11-27","name":"Amazon","price":1195.8,"rate":0.587},
    {"date":"2017-11-29","name":"Amazon","price":1161.3,"rate":0.541},
    {"date":"2017-12-01","name":"Amazon","price":1162.4,"rate":0.542},
    {"date":"2017-12-04","name":"Amazon","price":1134.0,"rate":0.505},
    {"date":"2017-12-06","name":"Amazon","price":1152.4,"rate":0.529},
    {"date":"2017-12-08","name":"Amazon","price":1162.0,"rate":0.542},
    {"date":"2017-12-12","name":"Amazon","price":1165.0,"rate":0.546},
    {"date":"2017-12-14","name":"Amazon","price":1164.1,"rate":0.545},
    {"date":"2017-12-18","name":"Amazon","price":1190.6,"rate":0.580},
    {"date":"2017-12-20","name":"Amazon","price":1177.6,"rate":0.563},
    {"date":"2017-12-22","name":"Amazon","price":1168.4,"rate":0.550},
    {"date":"2017-12-26","name":"Amazon","price":1176.8,"rate":0.561},
    {"date":"2017-12-28","name":"Amazon","price":1186.1,"rate":0.574},
    {"date":"2017-12-29","name":"Amazon","price":1169.5,"rate":0.552},

    {"date":"2017-01-03","name":"Facebook","price":116.86,"rate":0},
    {"date":"2017-01-06","name":"Facebook","price":123.41,"rate":0.056},
    {"date":"2017-01-10","name":"Facebook","price":124.35,"rate":0.064},
    {"date":"2017-01-13","name":"Facebook","price":128.34,"rate":0.098},
    {"date":"2017-01-18","name":"Facebook","price":127.92,"rate":0.095},
    {"date":"2017-01-20","name":"Facebook","price":127.04,"rate":0.087},
    {"date":"2017-01-24","name":"Facebook","price":129.37,"rate":0.107},
    {"date":"2017-01-27","name":"Facebook","price":132.18,"rate":0.131},
    {"date":"2017-01-31","name":"Facebook","price":130.32,"rate":0.115},
    {"date":"2017-02-02","name":"Facebook","price":133.23,"rate":0.140},
    {"date":"2017-02-03","name":"Facebook","price":130.98,"rate":0.121},
    {"date":"2017-02-08","name":"Facebook","price":134.20,"rate":0.148},
    {"date":"2017-02-10","name":"Facebook","price":134.19,"rate":0.148},
    {"date":"2017-02-14","name":"Facebook","price":133.85,"rate":0.145},
    {"date":"2017-02-17","name":"Facebook","price":133.53,"rate":0.143},
    {"date":"2017-02-22","name":"Facebook","price":136.12,"rate":0.165},
    {"date":"2017-02-24","name":"Facebook","price":135.44,"rate":0.159},
    {"date":"2017-02-28","name":"Facebook","price":135.54,"rate":0.160},
    {"date":"2017-03-02","name":"Facebook","price":136.76,"rate":0.170},
    {"date":"2017-03-06","name":"Facebook","price":137.42,"rate":0.176},
    {"date":"2017-03-09","name":"Facebook","price":138.68,"rate":0.187},
    {"date":"2017-03-13","name":"Facebook","price":139.60,"rate":0.195},
    {"date":"2017-03-16","name":"Facebook","price":139.84,"rate":0.197},
    {"date":"2017-03-21","name":"Facebook","price":138.51,"rate":0.185},
    {"date":"2017-03-24","name":"Facebook","price":140.34,"rate":0.201},
    {"date":"2017-03-28","name":"Facebook","price":141.76,"rate":0.213},
    {"date":"2017-03-31","name":"Facebook","price":142.05,"rate":0.216},
    {"date":"2017-04-04","name":"Facebook","price":141.73,"rate":0.213},
    {"date":"2017-04-07","name":"Facebook","price":140.78,"rate":0.205},
    {"date":"2017-04-12","name":"Facebook","price":139.58,"rate":0.194},
    {"date":"2017-04-13","name":"Facebook","price":139.39,"rate":0.193},
    {"date":"2017-04-18","name":"Facebook","price":141.20,"rate":0.208},
    {"date":"2017-04-21","name":"Facebook","price":143.68,"rate":0.230},
    {"date":"2017-04-25","name":"Facebook","price":146.49,"rate":0.254},
    {"date":"2017-04-28","name":"Facebook","price":150.25,"rate":0.286},
    {"date":"2017-05-02","name":"Facebook","price":151.80,"rate":0.299},
    {"date":"2017-05-04","name":"Facebook","price":150.85,"rate":0.291},
    {"date":"2017-05-08","name":"Facebook","price":151.06,"rate":0.293},
    {"date":"2017-05-12","name":"Facebook","price":150.33,"rate":0.286},
    {"date":"2017-05-17","name":"Facebook","price":144.85,"rate":0.240},
    {"date":"2017-05-19","name":"Facebook","price":148.06,"rate":0.267},
    {"date":"2017-05-24","name":"Facebook","price":150.04,"rate":0.284},
    {"date":"2017-05-26","name":"Facebook","price":152.13,"rate":0.302},
    {"date":"2017-05-31","name":"Facebook","price":151.46,"rate":0.296},
    {"date":"2017-06-02","name":"Facebook","price":153.63,"rate":0.315},
    {"date":"2017-06-06","name":"Facebook","price":153.87,"rate":0.317},
    {"date":"2017-06-08","name":"Facebook","price":154.71,"rate":0.324},
    {"date":"2017-06-09","name":"Facebook","price":149.60,"rate":0.280},
    {"date":"2017-06-12","name":"Facebook","price":148.44,"rate":0.270},
    {"date":"2017-06-14","name":"Facebook","price":150.68,"rate":0.289},
    {"date":"2017-06-16","name":"Facebook","price":150.64,"rate":0.289},
    {"date":"2017-06-20","name":"Facebook","price":152.25,"rate":0.303},
    {"date":"2017-06-23","name":"Facebook","price":155.07,"rate":0.327},
    {"date":"2017-06-26","name":"Facebook","price":153.59,"rate":0.314},
    {"date":"2017-06-27","name":"Facebook","price":150.58,"rate":0.289},
    {"date":"2017-06-30","name":"Facebook","price":150.98,"rate":0.292},
    {"date":"2017-07-03","name":"Facebook","price":148.43,"rate":0.270},
    {"date":"2017-07-06","name":"Facebook","price":148.82,"rate":0.274},
    {"date":"2017-07-10","name":"Facebook","price":156.24,"rate":0.337},
    {"date":"2017-07-14","name":"Facebook","price":159.97,"rate":0.369},
    {"date":"2017-07-18","name":"Facebook","price":162.86,"rate":0.394},
    {"date":"2017-07-21","name":"Facebook","price":164.43,"rate":0.407},
    {"date":"2017-07-24","name":"Facebook","price":166.00,"rate":0.421},
    {"date":"2017-07-26","name":"Facebook","price":165.61,"rate":0.417},
    {"date":"2017-07-27","name":"Facebook","price":170.44,"rate":0.459},
    {"date":"2017-07-28","name":"Facebook","price":172.45,"rate":0.476},
    {"date":"2017-08-01","name":"Facebook","price":169.86,"rate":0.454},
    {"date":"2017-08-04","name":"Facebook","price":171.23,"rate":0.465},
    {"date":"2017-08-08","name":"Facebook","price":171.23,"rate":0.465},
    {"date":"2017-08-10","name":"Facebook","price":167.40,"rate":0.432},
    {"date":"2017-08-14","name":"Facebook","price":170.75,"rate":0.461},
    {"date":"2017-08-17","name":"Facebook","price":166.91,"rate":0.428},
    {"date":"2017-08-22","name":"Facebook","price":169.64,"rate":0.452},
    {"date":"2017-08-25","name":"Facebook","price":166.32,"rate":0.423},
    {"date":"2017-08-29","name":"Facebook","price":168.05,"rate":0.438},
    {"date":"2017-08-31","name":"Facebook","price":171.97,"rate":0.472},
    {"date":"2017-09-05","name":"Facebook","price":170.44,"rate":0.459},
    {"date":"2017-09-08","name":"Facebook","price":169.15,"rate":0.447},
    {"date":"2017-09-12","name":"Facebook","price":172.96,"rate":0.480},
    {"date":"2017-09-15","name":"Facebook","price":171.64,"rate":0.469},
    {"date":"2017-09-19","name":"Facebook","price":172.93,"rate":0.480},
    {"date":"2017-09-22","name":"Facebook","price":170.54,"rate":0.459},
    {"date":"2017-09-25","name":"Facebook","price":162.87,"rate":0.394},
    {"date":"2017-09-27","name":"Facebook","price":167.68,"rate":0.435},
    {"date":"2017-09-29","name":"Facebook","price":170.87,"rate":0.462},
    {"date":"2017-10-03","name":"Facebook","price":169.96,"rate":0.454},
    {"date":"2017-10-09","name":"Facebook","price":172.50,"rate":0.476},
    {"date":"2017-10-12","name":"Facebook","price":172.55,"rate":0.477},
    {"date":"2017-10-16","name":"Facebook","price":174.52,"rate":0.493},
    {"date":"2017-10-18","name":"Facebook","price":174.65,"rate":0.495},
    {"date":"2017-10-20","name":"Facebook","price":174.98,"rate":0.497},
    {"date":"2017-10-24","name":"Facebook","price":171.80,"rate":0.470},
    {"date":"2017-10-26","name":"Facebook","price":170.63,"rate":0.460},
    {"date":"2017-10-27","name":"Facebook","price":177.88,"rate":0.522},
    {"date":"2017-10-31","name":"Facebook","price":180.06,"rate":0.541},
    {"date":"2017-11-02","name":"Facebook","price":178.92,"rate":0.531},
    {"date":"2017-11-06","name":"Facebook","price":180.17,"rate":0.542},
    {"date":"2017-11-09","name":"Facebook","price":179.30,"rate":0.534},
    {"date":"2017-11-13","name":"Facebook","price":178.77,"rate":0.530},
    {"date":"2017-11-15","name":"Facebook","price":177.95,"rate":0.523},
    {"date":"2017-11-17","name":"Facebook","price":179.00,"rate":0.532},
    {"date":"2017-11-21","name":"Facebook","price":181.86,"rate":0.556},
    {"date":"2017-11-24","name":"Facebook","price":182.78,"rate":0.564},
    {"date":"2017-11-27","name":"Facebook","price":183.03,"rate":0.566},
    {"date":"2017-11-29","name":"Facebook","price":175.13,"rate":0.499},
    {"date":"2017-12-01","name":"Facebook","price":175.10,"rate":0.498},
    {"date":"2017-12-04","name":"Facebook","price":171.47,"rate":0.467},
    {"date":"2017-12-06","name":"Facebook","price":176.06,"rate":0.507},
    {"date":"2017-12-08","name":"Facebook","price":179.00,"rate":0.532},
    {"date":"2017-12-12","name":"Facebook","price":176.96,"rate":0.514},
    {"date":"2017-12-14","name":"Facebook","price":178.30,"rate":0.526},
    {"date":"2017-12-18","name":"Facebook","price":180.82,"rate":0.547},
    {"date":"2017-12-20","name":"Facebook","price":177.89,"rate":0.522},
    {"date":"2017-12-22","name":"Facebook","price":177.20,"rate":0.516},
    {"date":"2017-12-26","name":"Facebook","price":175.99,"rate":0.506},
    {"date":"2017-12-28","name":"Facebook","price":177.92,"rate":0.523},
    {"date":"2017-12-29","name":"Facebook","price":176.46,"rate":0.510}
  ]},
  "vconcat": [
    {
      "width": 1033.4,
      "height": 279.5,
      "mark": {"type": "line", "strokeWidth": 1.5},
      "encoding": {
        "x": {"field": "date", "type": "temporal",
          "scale": {"type": "utc", "domain": [{"year": 2016, "month": 12, "date": 15, "hours": 21, "minutes": 50, "utc": true}, {"year": 2018, "month": 1, "date": 20, "hours": 5, "minutes": 45, "utc": true}]},
          "axis": {"title": "时间", "format": "%Y-%m-%d", "labelAngle": -45, "labelAlign": "center", "labelBaseline": "middle", "labelPadding": 25, "labelOverlap": false, "labelFlush": false, "labelBound": false, "titlePadding": 2,
            "values": [
              {"year":2017,"month":1,"date":3,"utc":true},{"year":2017,"month":1,"date":18,"utc":true},{"year":2017,"month":2,"date":1,"utc":true},{"year":2017,"month":2,"date":15,"utc":true},{"year":2017,"month":3,"date":2,"utc":true},{"year":2017,"month":3,"date":16,"utc":true},{"year":2017,"month":3,"date":30,"utc":true},{"year":2017,"month":4,"date":13,"utc":true},{"year":2017,"month":4,"date":28,"utc":true},{"year":2017,"month":5,"date":12,"utc":true},{"year":2017,"month":5,"date":26,"utc":true},{"year":2017,"month":6,"date":12,"utc":true},{"year":2017,"month":6,"date":26,"utc":true},{"year":2017,"month":7,"date":11,"utc":true},{"year":2017,"month":7,"date":25,"utc":true},{"year":2017,"month":8,"date":8,"utc":true},{"year":2017,"month":8,"date":22,"utc":true},{"year":2017,"month":9,"date":6,"utc":true},{"year":2017,"month":9,"date":20,"utc":true},{"year":2017,"month":10,"date":4,"utc":true},{"year":2017,"month":10,"date":18,"utc":true},{"year":2017,"month":11,"date":1,"utc":true},{"year":2017,"month":11,"date":15,"utc":true},{"year":2017,"month":11,"date":30,"utc":true},{"year":2017,"month":12,"date":14,"utc":true},{"year":2017,"month":12,"date":29,"utc":true}
            ]}},
        "y": {"field": "price", "type": "quantitative",
          "scale": {"domain": [-35.5, 1253.5], "nice": false, "zero": false},
          "axis": {"title": "股价", "format": "d", "values": [0,100,200,300,400,500,600,700,800,900,1000,1100,1200], "minExtent": 25, "maxExtent": 25, "titlePadding": 6, "labelPadding": 3.5}},
        "color": {"field": "name", "type": "nominal",
          "scale": {"domain": ["Alibaba","Google","Apple","Tencent","Amazon","Facebook"], "range": ["#1f77b4","#ff7f0e","#2ca02c","#d62728","#9467bd","#8c564b"]},
          "legend": {"title": null, "orient": "top-left"}}
      }
    },
    {
      "width": 1033.4,
      "height": 279.5,
      "mark": {"type": "line", "strokeWidth": 1.5},
      "encoding": {
        "x": {"field": "date", "type": "temporal",
          "scale": {"type": "utc", "domain": [{"year": 2016, "month": 12, "date": 15, "hours": 21, "minutes": 50, "utc": true}, {"year": 2018, "month": 1, "date": 20, "hours": 5, "minutes": 45, "utc": true}]},
          "axis": {"title": "时间", "format": "%Y-%m-%d", "labelAngle": -45, "labelAlign": "center", "labelBaseline": "middle", "labelPadding": 25, "labelOverlap": false, "labelFlush": false, "labelBound": false, "titlePadding": 2,
            "values": [
              {"year":2017,"month":1,"date":3,"utc":true},{"year":2017,"month":1,"date":18,"utc":true},{"year":2017,"month":2,"date":1,"utc":true},{"year":2017,"month":2,"date":15,"utc":true},{"year":2017,"month":3,"date":2,"utc":true},{"year":2017,"month":3,"date":16,"utc":true},{"year":2017,"month":3,"date":30,"utc":true},{"year":2017,"month":4,"date":13,"utc":true},{"year":2017,"month":4,"date":28,"utc":true},{"year":2017,"month":5,"date":12,"utc":true},{"year":2017,"month":5,"date":26,"utc":true},{"year":2017,"month":6,"date":12,"utc":true},{"year":2017,"month":6,"date":26,"utc":true},{"year":2017,"month":7,"date":11,"utc":true},{"year":2017,"month":7,"date":25,"utc":true},{"year":2017,"month":8,"date":8,"utc":true},{"year":2017,"month":8,"date":22,"utc":true},{"year":2017,"month":9,"date":6,"utc":true},{"year":2017,"month":9,"date":20,"utc":true},{"year":2017,"month":10,"date":4,"utc":true},{"year":2017,"month":10,"date":18,"utc":true},{"year":2017,"month":11,"date":1,"utc":true},{"year":2017,"month":11,"date":15,"utc":true},{"year":2017,"month":11,"date":30,"utc":true},{"year":2017,"month":12,"date":14,"utc":true},{"year":2017,"month":12,"date":29,"utc":true}
            ]}},
        "y": {"field": "rate", "type": "quantitative",
          "scale": {"domain": [-0.065, 1.335], "nice": false, "zero": false},
          "axis": {"title": "累计增长率", "format": ".1f", "values": [0,0.1,0.2,0.3,0.4,0.5,0.6,0.7,0.8,0.9,1.0,1.1], "minExtent": 25, "maxExtent": 25, "titlePadding": 6, "labelPadding": 3.5}},
        "color": {"field": "name", "type": "nominal",
          "scale": {"domain": ["Alibaba","Google","Apple","Tencent","Amazon","Facebook"], "range": ["#1f77b4","#ff7f0e","#2ca02c","#d62728","#9467bd","#8c564b"]},
          "legend": {"title": null, "orient": "top-left"}}
      }
    }
  ]
}
